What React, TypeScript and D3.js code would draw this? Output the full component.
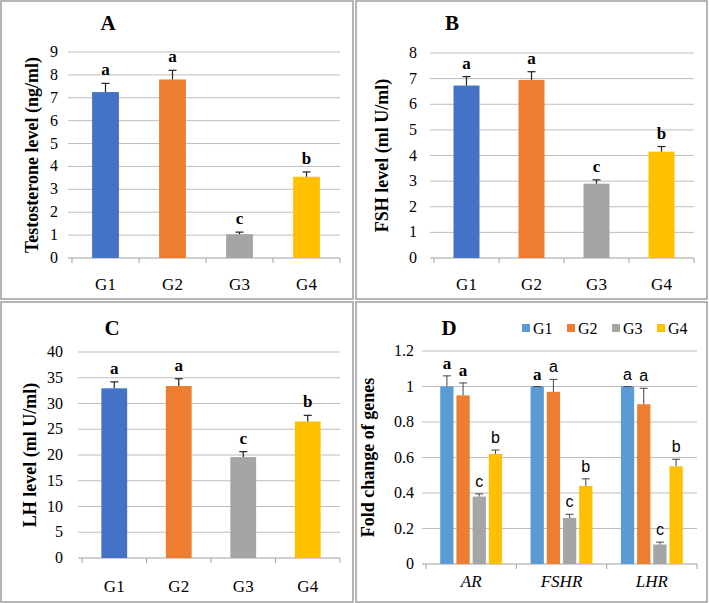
import React from 'react'
import * as d3 from 'd3'

const groups = ['G1', 'G2', 'G3', 'G4']
const barColors = ['#4472C4', '#ED7D31', '#A5A5A5', '#FFC000']
const geneColors = ['#5B9BD5', '#ED7D31', '#A5A5A5', '#FFC000']

// panel A
const testosterone = [7.25, 7.8, 1.04, 3.55]
const testosteroneErr = [0.38, 0.4, 0.09, 0.21]
const testosteroneLetters = ['a', 'a', 'c', 'b']
const testosteroneTicks = [0, 1, 2, 3, 4, 5, 6, 7, 8, 9]

// panel B
const fsh = [6.73, 6.95, 2.9, 4.15]
const fshErr = [0.35, 0.32, 0.15, 0.2]
const fshLetters = ['a', 'a', 'c', 'b']
const fshTicks = [0, 1, 2, 3, 4, 5, 6, 7, 8]

// panel C
const lh = [32.95, 33.4, 19.6, 26.5]
const lhErr = [1.25, 1.4, 1.05, 1.2]
const lhLetters = ['a', 'a', 'c', 'b']
const lhTicks = [0, 5, 10, 15, 20, 25, 30, 35, 40]

// panel D
const genes = ['AR', 'FSHR', 'LHR']
const foldG1 = [1.0, 1.0, 1.0]
const foldG2 = [0.95, 0.97, 0.9]
const foldG3 = [0.38, 0.26, 0.11]
const foldG4 = [0.62, 0.44, 0.55]
const errG1 = [0.06, 0.0, 0.0]
const errG2 = [0.07, 0.07, 0.09]
const errG3 = [0.015, 0.02, 0.013]
const errG4 = [0.022, 0.04, 0.04]
const lettersG1 = ['a', 'a', 'a']
const lettersG2 = ['a', 'a', 'a']
const lettersG3 = ['c', 'c', 'c']
const lettersG4 = ['b', 'b', 'b']
const foldTicks = [0, 0.2, 0.4, 0.6, 0.8, 1, 1.2]

const SERIF = '"Liberation Serif", "Times New Roman", serif'
const SANS = '"Liberation Sans", Arial, sans-serif'
const GRID = '#BDBDBD'
const AXIS = '#A0A0A0'
const FRAME = '#9E9E9E'

type SimpleProps = {
  frame: [number, number, number, number]
  plot: { x0: number; x1: number; y0: number; y1: number }
  title: string
  titleX: number
  titleY: number
  yLabel: string
  yLabelX: number
  values: number[]
  errors: number[]
  letters: string[]
  ticks: number[]
  tickLabelX: number
  catY: number
}

function SimplePanel(p: SimpleProps) {
  const { plot } = p
  const x = d3.scaleBand<string>().domain(groups).range([plot.x0, plot.x1]).paddingInner(0.6).paddingOuter(0.3)
  const y = d3
    .scaleLinear()
    .domain([0, p.ticks[p.ticks.length - 1]])
    .range([plot.y0, plot.y1])
  const step = x.step()
  const boundaries = d3.range(groups.length + 1).map((i) => plot.x0 + i * step)
  const midY = (plot.y0 + plot.y1) / 2
  return (
    <g>
      <rect x={p.frame[0]} y={p.frame[1]} width={p.frame[2]} height={p.frame[3]} fill="#fff" stroke={FRAME} strokeWidth={1.5} />
      <text x={p.titleX} y={p.titleY} fontFamily={SERIF} fontWeight="bold" fontSize={21} textAnchor="middle">
        {p.title}
      </text>
      {p.ticks.map((t) => (
        <g key={t}>
          {t > 0 && <line x1={plot.x0 - 4} x2={plot.x1} y1={y(t)} y2={y(t)} stroke={GRID} strokeWidth={1} />}
          <text x={p.tickLabelX} y={y(t) + 5} fontFamily={SERIF} fontSize={16} textAnchor="end" fill="#000">
            {t}
          </text>
        </g>
      ))}
      <line x1={plot.x0 - 4} x2={plot.x1} y1={plot.y0} y2={plot.y0} stroke={AXIS} strokeWidth={1} />
      {boundaries.map((bx, i) => (
        <line key={i} x1={bx} x2={bx} y1={plot.y0} y2={plot.y0 + 5} stroke={AXIS} strokeWidth={1} />
      ))}
      {groups.map((g, i) => {
        const bx = x(g) as number
        const bw = x.bandwidth()
        const cx = bx + bw / 2
        const top = y(p.values[i])
        const eTop = y(p.values[i] + p.errors[i])
        return (
          <g key={g}>
            <rect x={bx} y={top} width={bw} height={plot.y0 - top} fill={barColors[i]} />
            <line x1={cx} x2={cx} y1={top} y2={eTop} stroke="#222" strokeWidth={1.2} />
            <line x1={cx - 4} x2={cx + 4} y1={eTop} y2={eTop} stroke="#222" strokeWidth={1.2} />
            <text x={cx} y={eTop - 8} fontFamily={SERIF} fontWeight="bold" fontSize={17} textAnchor="middle">
              {p.letters[i]}
            </text>
            <text x={cx} y={p.catY} fontFamily={SERIF} fontSize={17} textAnchor="middle">
              {g}
            </text>
          </g>
        )
      })}
      <text
        transform={`translate(${p.yLabelX},${midY}) rotate(-90)`}
        fontFamily={SERIF}
        fontWeight="bold"
        fontSize={18}
        textAnchor="middle"
      >
        {p.yLabel}
      </text>
    </g>
  )
}

function GenePanel() {
  const frame = [356, 302, 351, 300]
  const plot = { x0: 426, x1: 697, y0: 564, y1: 351 }
  const series = [foldG1, foldG2, foldG3, foldG4]
  const errs = [errG1, errG2, errG3, errG4]
  const letters = [lettersG1, lettersG2, lettersG3, lettersG4]
  const x0 = d3.scaleBand<string>().domain(genes).range([plot.x0, plot.x1])
  const x1 = d3.scaleBand<string>().domain(groups).range([0, x0.bandwidth()]).paddingInner(0.18).paddingOuter(0.88)
  const y = d3.scaleLinear().domain([0, 1.2]).range([plot.y0, plot.y1])
  const boundaries = d3.range(genes.length + 1).map((i) => plot.x0 + i * x0.step())
  const serifLetter = (gi: number, si: number) => (gi === 0 && si < 2) || (gi === 1 && si === 0)
  return (
    <g>
      <rect x={frame[0]} y={frame[1]} width={frame[2]} height={frame[3]} fill="#fff" stroke={FRAME} strokeWidth={1.5} />
      <text x={449} y={335} fontFamily={SERIF} fontWeight="bold" fontSize={21} textAnchor="middle">
        D
      </text>
      {groups.map((g, i) => (
        <g key={g} transform={`translate(${522 + i * 45},0)`}>
          <rect x={0} y={324} width={8} height={8} fill={geneColors[i]} />
          <text x={11} y={334} fontFamily={SERIF} fontSize={16}>
            {g}
          </text>
        </g>
      ))}
      {foldTicks.map((t) => (
        <g key={t}>
          {t > 0 && <line x1={plot.x0 - 4} x2={plot.x1} y1={y(t)} y2={y(t)} stroke={GRID} strokeWidth={1} />}
          <text x={414} y={y(t) + 5} fontFamily={SERIF} fontSize={16} textAnchor="end">
            {d3.format('~g')(t)}
          </text>
        </g>
      ))}
      <line x1={plot.x0 - 4} x2={plot.x1} y1={plot.y0} y2={plot.y0} stroke={AXIS} strokeWidth={1} />
      {boundaries.map((bx, i) => (
        <line key={i} x1={bx} x2={bx} y1={plot.y0} y2={plot.y0 + 5} stroke={AXIS} strokeWidth={1} />
      ))}
      {genes.map((gene, gi) => {
        const gx = x0(gene) as number
        return (
          <g key={gene}>
            {groups.map((g, si) => {
              const bx = gx + (x1(g) as number)
              const bw = x1.bandwidth()
              const cx = bx + bw / 2
              const v = series[si][gi]
              const top = y(v)
              const eTop = y(v + errs[si][gi])
              const serif = serifLetter(gi, si)
              return (
                <g key={g}>
                  <rect x={bx} y={top} width={bw} height={plot.y0 - top} fill={geneColors[si]} />
                  <line x1={cx} x2={cx} y1={top} y2={eTop} stroke="#444" strokeWidth={1} />
                  <line x1={cx - 4} x2={cx + 4} y1={eTop} y2={eTop} stroke="#444" strokeWidth={1} />
                  <text
                    x={cx}
                    y={eTop - 7}
                    fontFamily={serif ? SERIF : SANS}
                    fontWeight={serif ? 'bold' : 'normal'}
                    fontSize={serif ? 17 : 16}
                    textAnchor="middle"
                  >
                    {letters[si][gi]}
                  </text>
                </g>
              )
            })}
            <text x={gx + x0.bandwidth() / 2} y={587} fontFamily={SERIF} fontStyle="italic" fontSize={17} textAnchor="middle">
              {gene}
            </text>
          </g>
        )
      })}
      <text
        transform={`translate(374,${(plot.y0 + plot.y1) / 2}) rotate(-90)`}
        fontFamily={SERIF}
        fontWeight="bold"
        fontSize={18}
        textAnchor="middle"
      >
        Fold change of genes
      </text>
    </g>
  )
}

export default function App() {
  return (
    <div style={{ position: 'absolute', left: 0, top: 0 }}>
      <svg width={709} height={603} style={{ display: 'block', background: '#fff' }}>
        <rect x={0} y={0} width={709} height={603} fill="#fff" />
        <SimplePanel
          frame={[1, 1, 352, 298]}
          plot={{ x0: 72, x1: 340, y0: 258, y1: 52 }}
          title="A"
          titleX={108}
          titleY={30}
          yLabel="Testosterone level (ng/ml)"
          yLabelX={38}
          values={testosterone}
          errors={testosteroneErr}
          letters={testosteroneLetters}
          ticks={testosteroneTicks}
          tickLabelX={58}
          catY={290}
        />
        <SimplePanel
          frame={[356, 1, 351, 298]}
          plot={{ x0: 434, x1: 694, y0: 258, y1: 53 }}
          title="B"
          titleX={452}
          titleY={30}
          yLabel="FSH level (ml U/ml)"
          yLabelX={388}
          values={fsh}
          errors={fshErr}
          letters={fshLetters}
          ticks={fshTicks}
          tickLabelX={417}
          catY={290}
        />
        <SimplePanel
          frame={[1, 302, 352, 300]}
          plot={{ x0: 82, x1: 340, y0: 558, y1: 352 }}
          title="C"
          titleX={112}
          titleY={335}
          yLabel="LH level (ml U/ml)"
          yLabelX={36}
          values={lh}
          errors={lhErr}
          letters={lhLetters}
          ticks={lhTicks}
          tickLabelX={63}
          catY={592}
        />
        <GenePanel />
      </svg>
    </div>
  )
}
